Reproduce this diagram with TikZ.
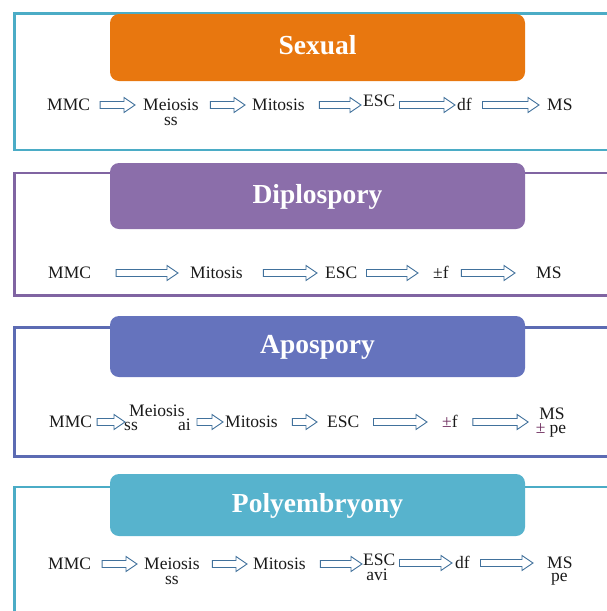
\documentclass[tikz,border=0pt]{standalone}
\usepackage{fontspec}
\setmainfont{Liberation Serif}
\usepackage{tikz}
\usetikzlibrary{calc}

\definecolor{sexfill}{HTML}{E8770F}
\definecolor{dipfill}{HTML}{8B6EAA}
\definecolor{dipline}{HTML}{8064A2}
\definecolor{apofill}{HTML}{6573BD}
\definecolor{apoline}{HTML}{5C6BB3}
\definecolor{polfill}{HTML}{57B3CD}
\definecolor{tealline}{HTML}{4BACC6}
\definecolor{arrowline}{HTML}{41719C}
\definecolor{txtcol}{HTML}{1A1A1A}
\definecolor{pmcol}{HTML}{6E2D5E}

\begin{document}
\begin{tikzpicture}[x=1pt,y=-1pt]

  \useasboundingbox (0,0) rectangle (607,611);
  \clip (0,0) rectangle (607,611);

  % node styles
  \tikzstyle{Frame}=[line width=2.5pt]

  \tikzstyle{Title}=[
  shape=rectangle,rounded corners=9pt,
  minimum width=415pt,
  inner sep=0pt,
  text=white,
  font=\fontsize{27.5}{30}\selectfont\bfseries,
  text height=19pt,text depth=5pt]

  \tikzstyle{Word}=[
  anchor=base west,
  inner sep=0pt,
  text=txtcol,
  font=\fontsize{17.5}{19}\selectfont,
  text height=10pt,text depth=0pt]

  \tikzstyle{Sub}=[Word,anchor=base]

  \tikzstyle{Flow}=[
  draw=arrowline,fill=white,line width=0.9pt,
  to path={let \p1=(\tikztostart), \p2=(\tikztotarget) in
    (\x1,\y1+3.5pt) -- (\x2-11pt,\y1+3.5pt) -- (\x2-11pt,\y1+7.5pt) -- (\x2,\y1)
    -- (\x2-11pt,\y1-7.5pt) -- (\x2-11pt,\y1-3.5pt) -- (\x1,\y1-3.5pt) -- cycle}]

  % frames
  \draw[Frame,tealline] (607,13.5) -- (14.5,13.5) -- (14.5,150) -- (607,150);
  \draw[Frame,dipline]  (607,173) -- (14.5,173) -- (14.5,295.5) -- (607,295.5);
  \draw[Frame,apoline]  (607,327.5) -- (14.5,327.5) -- (14.5,456.5) -- (607,456.5);
  \draw[Frame,tealline] (607,487) -- (14.5,487) -- (14.5,611);

  % titles
  \node[Title,fill=sexfill,minimum height=67pt] (sexual) at (317.5,47.5) {Sexual};
  \node[Title,fill=dipfill,minimum height=66pt] (diplo)  at (317.5,196) {Diplospory};
  \node[Title,fill=apofill,minimum height=61pt] (apo)    at (317.5,346.5) {Apospory};
  \node[Title,fill=polfill,minimum height=62pt] (poly)   at (317.5,505) {Polyembryony};

  % sexual
  \node[Word] (sx1) at (47,110)    {MMC};
  \node[Word] (sx2) at (143,110)   {Meiosis};
  \node[Sub]  (sxa) at (171,125)   {ss};
  \node[Word] (sx3) at (252,110)   {Mitosis};
  \node[Word] (sx4) at (363,106.5) {ESC};
  \node[Word] (sx5) at (457,110)   {df};
  \node[Word] (sx6) at (547,110)   {MS};

  \draw[Flow] ([xshift=10pt]sx1.east) to ([xshift=-8pt]sx2.west);
  \draw[Flow] ([xshift=11.5pt]sx2.east) to ([xshift=-7pt]sx3.west);
  \draw[Flow] ([xshift=14.5pt]sx3.east) to ([xshift=-2pt]sx4.west);
  \draw[Flow] ([xshift=4pt]sx4.east |- sx5.east) to ([xshift=-2pt]sx5.west);
  \draw[Flow] ([xshift=10.5pt]sx5.east) to ([xshift=-8pt]sx6.west);

  % diplospory
  \node[Word] (dp1) at (48,278)  {MMC};
  \node[Word] (dp2) at (190,278) {Mitosis};
  \node[Word] (dp3) at (325,278) {ESC};
  \node[Word] (dp4) at (433,278) {±f};
  \node[Word] (dp5) at (536,278) {MS};

  \draw[Flow] ([xshift=25pt]dp1.east) to ([xshift=-12pt]dp2.west);
  \draw[Flow] ([xshift=20.5pt]dp2.east) to ([xshift=-8pt]dp3.west);
  \draw[Flow] ([xshift=9pt]dp3.east) to ([xshift=-15pt]dp4.west);
  \draw[Flow] ([xshift=12.5pt]dp4.east) to ([xshift=-21pt]dp5.west);

  % apospory
  \node[Word] (ap1) at (49,427)  {MMC};
  \node[Word] (ap2) at (129,416) {Meiosis};
  \node[Word] (apa) at (124,430) {ss};
  \node[Word] (apb) at (178,430) {ai};
  \node[Word] (ap3) at (225,427) {Mitosis};
  \node[Word] (ap4) at (327,427) {ESC};
  \node[Word] (ap5) at (442,427) {\textcolor{pmcol}{±}f};
  \node[Sub]  (ap6) at (552,419) {MS};
  \node[Sub]  (apc) at (551,433) {\textcolor{pmcol}{±} pe};

  \draw[Flow] ([xshift=5pt]ap1.east) to ([xshift=-4pt]ap2.west);
  \draw[Flow] ([xshift=6pt]apb.east |- ap3.east) to ([xshift=-2pt]ap3.west);
  \draw[Flow] ([xshift=14.5pt]ap3.east) to ([xshift=-10pt]ap4.west);
  \draw[Flow] ([xshift=14pt]ap4.east) to ([xshift=-15pt]ap5.west);
  \draw[Flow] ([xshift=15pt]ap5.east) to ([xshift=-11pt]ap6.west);

  % polyembryony
  \node[Word] (pe1) at (48,569)  {MMC};
  \node[Word] (pe2) at (144,569) {Meiosis};
  \node[Sub]  (pea) at (172,584) {ss};
  \node[Word] (pe3) at (253,569) {Mitosis};
  \node[Word] (pe4) at (363,565) {ESC};
  \node[Sub]  (peb) at (377,580) {avi};
  \node[Word] (pe5) at (455,568) {df};
  \node[Word] (pe6) at (547,568) {MS};
  \node[Sub]  (pec) at (559.5,581) {pe};

  \draw[Flow] ([xshift=11pt]pe1.east) to ([xshift=-7pt]pe2.west);
  \draw[Flow] ([xshift=12.5pt]pe2.east) to ([xshift=-6pt]pe3.west);
  \draw[Flow] ([xshift=14.5pt]pe3.east) to ([xshift=-1pt]pe4.west);
  \draw[Flow] ([xshift=4pt]pe4.east |- pe5.east) to ([xshift=-3pt]pe5.west);
  \draw[Flow] ([xshift=10.5pt]pe5.east) to ([xshift=-14pt]pe6.west);

\end{tikzpicture}
\end{document}
